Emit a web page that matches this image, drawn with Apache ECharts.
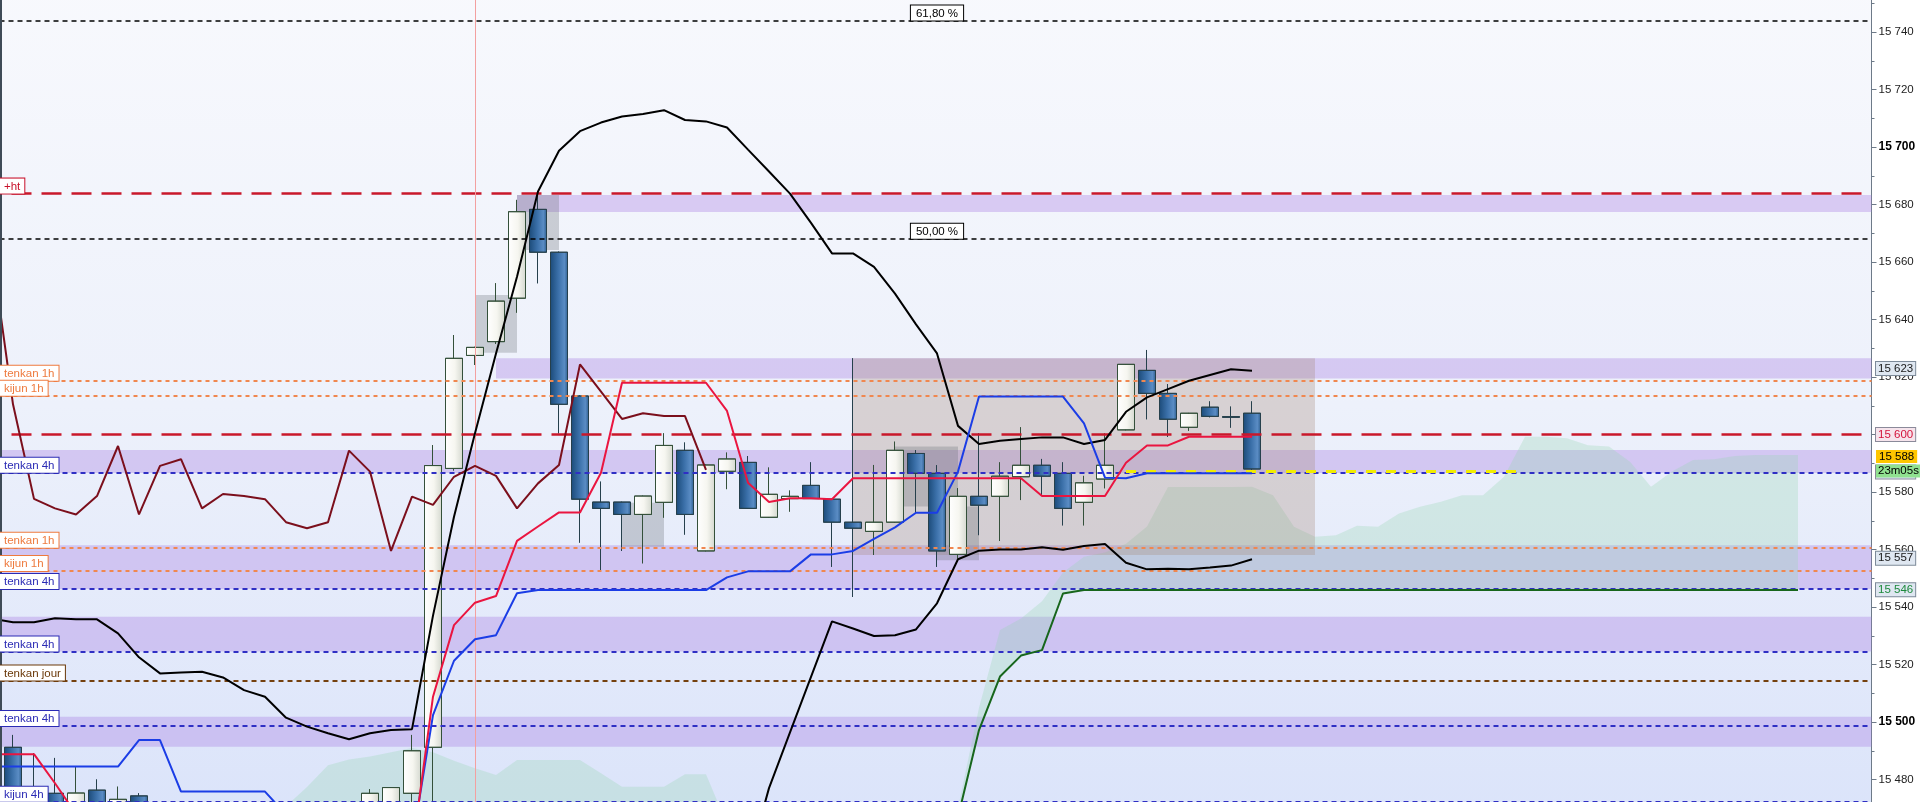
<!DOCTYPE html>
<html><head><meta charset="utf-8">
<script src="https://cdn.jsdelivr.net/npm/echarts@6/dist/echarts.min.js"></script>
<style>html,body{margin:0;padding:0;background:#fff;overflow:hidden}#c{width:1920px;height:802px}</style>
</head><body><div id="c"></div>
<script>
// ---------- DATA (bar index i = -1 .. ; array position = i + 1) ----------
const barIndex = [];
for (let i = -1; i <= 88; i++) barIndex.push(String(i));

const opens = [null,
  15491.2, 15468, 15475.2, 15466, 15476.3, 15467, 15474.3,
  null, null, null, null, null, null, null, null, null, null,
  15466, 15468, 15475.2, 15491.2, 15588.2, 15627.5, 15632.3, 15647.4, 15678.3, 15663.4,
  15613.4, 15576.5, 15576.5, 15572.2, 15576.4, 15594.5, 15559.5, 15587.2, 15590.3, 15571.2,
  15577.7, 15582.3, 15577.5, 15569.5, 15566.3, 15569.5, 15593.4, 15586.5, 15558.3, 15578.5,
  15578.5, 15585.3, 15589.3, 15586.5, 15576.4, 15584.5, 15601.6, 15622.3, 15614.3, 15602.5,
  15609.5, 15606.2, 15607.4];
const closes = [null,
  15462, 15463, 15464, 15475.3, 15466, 15473.1, 15465,
  null, null, null, null, null, null, null, null, null, null,
  15475.2, 15477.2, 15490.0, 15589.2, 15626.5, 15630.3, 15646.4, 15677.5, 15663.4, 15610.5,
  15577.5, 15574.3, 15572.2, 15578.6, 15596.2, 15572.2, 15589.4, 15591.5, 15574.3, 15579.2,
  15578.5, 15577.7, 15569.5, 15567.4, 15569.5, 15594.5, 15586.5, 15559.5, 15578.5, 15575.4,
  15585.5, 15589.3, 15585.5, 15574.3, 15583.2, 15589.3, 15624.4, 15614.3, 15605.3, 15607.4,
  15606.3, 15606.0, 15588.0];
const lows = [null,
  15455, 15452, 15458, 15460, 15462, 15461, 15460,
  null, null, null, null, null, null, null, null, null, null,
  15462, 15464, 15466, 15468, 15587.5, 15624.2, 15631.5, 15642.4, 15652.6, 15600.4,
  15562.4, 15552.9, 15559.5, 15555.2, 15571.1, 15565.2, 15559.4, 15581.0, 15574.2, 15571.1,
  15573.2, 15577.6, 15554.0, 15543.5, 15558.1, 15569.4, 15572.6, 15554.0, 15556.9, 15565.0,
  15563.0, 15577.2, 15578.9, 15568.4, 15568.4, 15581.3, 15601.5, 15605.3, 15599.2, 15601.3,
  15606.0, 15602.4, 15587.5];
const highs = [null,
  15495.5, 15489.1, 15487.5, 15484.4, 15480.0, 15477.5, 15475.2,
  null, null, null, null, null, null, null, null, null, null,
  15476.6, 15477.3, 15495.5, 15596.3, 15634.6, 15630.5, 15652.6, 15681.6, 15683.7, 15663.6,
  15613.6, 15583.6, 15576.6, 15578.7, 15600.4, 15597.2, 15589.5, 15593.7, 15592.5, 15588.5,
  15580.5, 15590.3, 15577.6, 15626.5, 15589.4, 15597.5, 15594.6, 15589.3, 15581.3, 15600.4,
  15590.3, 15602.5, 15591.5, 15590.3, 15585.6, 15600.4, 15624.5, 15629.4, 15617.5, 15607.5,
  15611.5, 15609.7, 15611.5];

// Ichimoku / Bollinger lines (null = outside the visible price range)
const chikou = [15663.4, 15610.5, 15577.6, 15574.3, 15572.2, 15578.6, 15596.0, 15572.2, 15589.1, 15591.4,
  15574.3, 15579.3, 15578.6, 15577.5, 15569.5, 15567.4, 15569.5, 15594.4, 15587.1, 15559.5,
  15578.4, 15575.5, 15585.3, 15589.1, 15585.6, 15574.3, 15583.0, 15589.4, 15624.4, 15614.9,
  15605.4, 15607.4, 15606.4, 15606.4, 15587.7];
const tenkan = [15488.8, 15488.8, 15488.8, 15478.7, 15468,
  null, null, null, null, null, null, null, null, null, null, null, null, null, null, null,
  15454.4, 15508.8, 15533.7, 15541.5, 15543.8, 15563, 15568, 15572.9, 15572.9, 15586.7,
  15618, 15618, 15618, 15618, 15618, 15608.2, 15583.2, 15576.5, 15577.8, 15577.8, 15577.5,
  15584.8, 15584.8, 15584.8, 15584.8, 15584.8, 15584.8, 15584.8, 15584.8, 15584.8,
  15578.6, 15578.6, 15578.6, 15578.6, 15590.2, 15596.2, 15596.2, 15599.2, 15599.2, 15599.2, 15599.2];
const kijun = [15484.5, 15484.5, 15484.5, 15484.5, 15484.5, 15484.5, 15484.5, 15493.7, 15493.7,
  15475.8, 15475.8, 15475.8, 15475.8, 15475.8, 15467.8,
  null, null, null, null, null,
  15457.4, 15502.4, 15521.3, 15528.8, 15530.2, 15544.8,
  15545.9, 15545.9, 15545.9, 15545.9, 15545.9, 15545.9, 15545.9, 15545.9, 15545.9,
  15550.3, 15552.4, 15552.4, 15552.4, 15558.3, 15558.3, 15559.5, 15563.7, 15567.7, 15572.8, 15572.8,
  15587.1, 15613.2, 15613.2, 15613.2, 15613.2, 15613.2, 15603.9, 15585.0, 15584.8,
  15586.5, 15586.5, 15586.5, 15586.5, 15586.5, 15586.5];
const bollUpper = [15536, 15534.7, 15534.7, 15536.1, 15535.7, 15535.7, 15530.8, 15522.5, 15516.9, 15517.2,
  15517.5, 15515.5, 15511.1, 15508.8, 15501.5, 15498.4, 15496.1, 15494.0, 15496.1, 15497.2,
  15497.5, 15537, 15571.4, 15600.4, 15628.2, 15654.9, 15684.5, 15698.7, 15705.5, 15708.5,
  15710.6, 15711.5, 15712.8, 15709.4, 15708.9, 15706.8, 15699.1, 15691.5, 15683.8, 15673.6,
  15663.0, 15663.0, 15658.3, 15649.0, 15638.3, 15628.2, 15603.0, 15596.7, 15597.8, 15598.4,
  15599.0, 15599.0, 15596.7, 15598.1, 15607.9, 15612.9, 15615.8, 15618.7, 15620.7, 15622.7, 15622.2];
const bollLower = [null, null, null, null, null, null, null, null, null, null,
  null, null, null, null, null, null, null, null, null, null,
  null, null, null, null, null, null, null, null, null, null,
  null, null, null, null, null, null,
  15450.6, 15477, 15496.4, 15515.7, 15535.0, 15532.5, 15529.9, 15530.2, 15532.2, 15541.3,
  15556.6, 15559.6, 15560, 15560, 15560.8, 15559.9, 15561.2, 15561.9, 15555.4, 15553.1,
  15553.3, 15553.1, 15553.7, 15554.4, 15556.6];
const spanTop = [null, null, null, null, null, null, null, null, null, null, null, null, null, null,
  15470.7, 15477.4, 15485, 15487, 15488, 15489.5, 15491, 15489.5, 15486.5, 15483.9, 15481.6,
  15486.8, 15486.8, 15486.8, 15486.8, 15482.2, 15477.5, 15477.5, 15477.5, 15481.8, 15481.8, 15464.5,
  null, null, null, null, null, null, null, null, null, null,
  15470, 15505, 15532, 15536, 15542, 15552, 15557.5, 15559, 15562, 15568,
  15581.7, 15581.7, 15581.7, 15581.7, 15581.8, 15578.9, 15567.9, 15564.4, 15565.0, 15568.3,
  15567.9, 15572.5, 15574.9, 15576.6, 15578.9, 15578.9, 15585.3, 15599.2, 15599.2, 15598.7,
  15596.3, 15595.8, 15590.5, 15581.8, 15587.1, 15591.1, 15591.4, 15592.5, 15592.9, 15592.9, 15592.9];
const spanBottom = [null, null, null, null, null, null, null, null, null, null,
  null, null, null, null, null, null, null, null, null, null,
  null, null, null, null, null, null, null, null, null, null,
  null, null, null, null, null, null, null, null, null, null,
  null, null, null, null, null, null,
  15466.9, 15497.2, 15515.8, 15523.1, 15525.0, 15544.7,
  15545.9, 15545.9, 15545.9, 15545.9, 15545.9, 15545.9, 15545.9, 15545.9, 15545.9, 15545.9,
  15545.9, 15545.9, 15545.9, 15545.9, 15545.9, 15545.9, 15545.9, 15545.9, 15545.9, 15545.9,
  15545.9, 15545.9, 15545.9, 15545.9, 15545.9, 15545.9, 15545.9, 15545.9, 15545.9, 15545.9,
  15545.9, 15545.9, 15545.9, 15545.9, 15545.9];

// Horizontal zones (price ranges) and the bar where they begin (null = from the left edge)
const zoneLow   = [15677.4, 15619.5, 15586.6, 15546.3, 15524.5, 15491.4];
const zoneHigh  = [15683.3, 15626.5, 15594.6, 15561.5, 15536.6, 15501.8];
const zoneStart = [24, 23, null, null, null, null];

// Highlight boxes: bars from..to, price low..high
const boxFrom = [22, 24, 29, 40, 42, 44];
const boxTo   = [24, 26, 31, 62, 45, 46];
const boxLow  = [15628.4, 15664.2, 15561.0, 15558.1, 15575.0, 15556.3];
const boxHigh = [15648.5, 15683.3, 15576.3, 15626.5, 15595.8, 15575.0];
const boxKind = ['cool', 'cool', 'cool', 'warm', 'cool', 'cool'];

// Level lines
const levelNames  = ['+ht', 'tenkan 1h', 'kijun 1h', '', 'tenkan 4h', 'tenkan 1h', 'kijun 1h', 'tenkan 4h', 'tenkan 4h', 'tenkan jour', 'tenkan 4h', 'kijun 4h'];
const levelValues = [15683.8, 15618.7, 15613.5, 15600.0, 15586.7, 15560.6, 15552.5, 15546.3, 15524.5, 15514.4, 15498.6, 15472.3];
const levelKinds  = ['res', 'h1', 'h1', 'res', 'h4', 'h1', 'h1', 'h4', 'h4', 'day', 'h4', 'h4'];

const fibNames  = ['61,80 %', '50,00 %'];
const fibValues = [15744.0, 15668.1];
const fibLabelBar = 44;

const targetValue = 15587.3, targetFrom = 53, targetTo = 72;
const markerBar = 22;

// Right-axis value tags
const tagValues = [15623, 15600, 15587, 15557, 15546];
const tagKinds  = ['plain', 'red', 'blue', 'plain', 'green'];
const lastPrice = 15588;
const countdown = '23m05s';

// ---------- STYLES ----------
const Y_MIN = 15460, Y_MAX = 15760;
const FONT = '"Liberation Sans", Arial, sans-serif';
const kindStyle = {
  res: { color: '#c9182b', width: 2.6, type: [20, 10], text: '#c8102a' },
  h1:  { color: '#f0874f', width: 2,   type: [4, 4],   text: '#ee7a3e' },
  h4:  { color: '#2f2fc4', width: 2,   type: [5, 4],   text: '#2a2ab4' },
  day: { color: '#74400e', width: 2,   type: [5, 4],   text: '#6a3808' }
};
const tagStyle = {
  plain: { bg: '#dfe7f1', fg: '#1a1a1a', border: '#7d8a99' },
  red:   { bg: '#f6e4ec', fg: '#d4143c', border: '#8a8a9a' },
  blue:  { bg: '#dce6f5', fg: '#2030d0', border: '#8a8a9a' },
  green: { bg: '#dfe7f1', fg: '#1d8a3c', border: '#7d8a99' }
};

const fmt = v => { const s = String(Math.round(v)); return s.slice(0, s.length - 3) + ' ' + s.slice(-3); };
const nz = a => a.map(v => (v == null ? '-' : v));

const candleData = opens.map((o, k) => (o == null ? '-' : [o, closes[k], lows[k], highs[k]]));
const cloudBase = spanTop.map((t, k) => (t == null ? null : (spanBottom[k] != null ? spanBottom[k] : Y_MIN)));
const cloudDiff = spanTop.map((t, k) => (t == null ? null : t - cloudBase[k]));

const upFill = new echarts.graphic.LinearGradient(0, 0, 1, 0, [
  { offset: 0, color: '#ffffff' }, { offset: 0.55, color: '#f6f6f0' }, { offset: 1, color: '#d4d8cf' }]);
const downFill = new echarts.graphic.LinearGradient(0, 0, 1, 0, [
  { offset: 0, color: '#1b4a78' }, { offset: 0.45, color: '#3a6fa8' }, { offset: 0.8, color: '#5a8cc4' }, { offset: 1, color: '#2c5d8e' }]);

const chart = echarts.init(document.getElementById('c'), null, { renderer: 'canvas' });

const lineSeries = (name, data, color, z) => ({
  type: 'line', name, data: nz(data), z, symbol: 'none', silent: true, connectNulls: false,
  lineStyle: { color, width: 2 }, animation: false
});

const option = {
  animation: false,
  backgroundColor: '#ffffff',
  grid: {
    left: -18.5, top: -25.5, width: 1890, height: 862.5, show: true, borderWidth: 0,
    containLabel: false, outerBoundsMode: 'none',
    backgroundColor: new echarts.graphic.LinearGradient(0, 0, 0, 1, [
      { offset: 0, color: '#f8f9fd' }, { offset: 0.5, color: '#edf1fb' }, { offset: 1, color: '#dae3fa' }])
  },
  xAxis: { type: 'category', data: barIndex, boundaryGap: true, show: false },
  yAxis: {
    type: 'value', position: 'right', min: Y_MIN, max: Y_MAX, interval: 20,
    splitLine: { show: false },
    axisLine: { show: true, lineStyle: { color: '#6d7a88', width: 1 } },
    axisTick: { show: true, length: 5, lineStyle: { color: '#6d7a88' } },
    minorTick: { show: true, splitNumber: 2, length: 3, lineStyle: { color: '#6d7a88' } },
    axisLabel: {
      margin: 7, fontSize: 11.5, color: '#222', fontFamily: FONT,
      formatter: v => (Math.round(v) % 100 === 0 ? '{b|' + fmt(v) + '}' : fmt(v)),
      rich: { b: { fontWeight: 'bold', fontSize: 12, color: '#000', fontFamily: FONT } }
    }
  },
  series: [
    { // horizontal zones
      type: 'custom', z: 1, silent: true, data: zoneLow,
      renderItem: (params, api) => {
        const j = params.dataIndex, cs = params.coordSys;
        const yTop = api.coord([0, zoneHigh[j]])[1], yBot = api.coord([0, zoneLow[j]])[1];
        const x0 = zoneStart[j] == null ? cs.x : api.coord([String(zoneStart[j]), zoneLow[j]])[0];
        return { type: 'rect', shape: { x: x0, y: yTop, width: cs.x + cs.width - x0, height: yBot - yTop },
          style: { fill: 'rgba(168,128,228,0.36)' } };
      }
    },
    { type: 'line', data: nz(cloudBase), stack: 'cloud', symbol: 'none', silent: true, z: 2, lineStyle: { opacity: 0 } },
    { type: 'line', data: nz(cloudDiff), stack: 'cloud', symbol: 'none', silent: true, z: 2, lineStyle: { opacity: 0 },
      areaStyle: { color: 'rgba(150,214,178,0.42)' } },
    { // highlight boxes
      type: 'custom', z: 3, silent: true, data: boxLow,
      renderItem: (params, api) => {
        const j = params.dataIndex;
        const p0 = api.coord([String(boxFrom[j]), boxHigh[j]]);
        const p1 = api.coord([String(boxTo[j]), boxLow[j]]);
        return { type: 'rect', shape: { x: p0[0], y: p0[1], width: p1[0] - p0[0], height: p1[1] - p0[1] },
          style: { fill: boxKind[j] === 'warm' ? 'rgba(165,135,120,0.30)' : 'rgba(105,112,120,0.30)' } };
      }
    },
    {
      type: 'candlestick', name: 'price', data: candleData, barWidth: 17, z: 4, silent: true,
      itemStyle: { color: upFill, color0: downFill, borderColor: '#34503a', borderColor0: '#26404c', borderWidth: 1 }
    },
    { // level lines
      type: 'line', data: [], z: 5, silent: true,
      markLine: {
        silent: true, symbol: 'none', animation: false, label: { show: false },
        data: levelValues.map((v, j) => ({ yAxis: v, lineStyle: {
          color: kindStyle[levelKinds[j]].color, width: kindStyle[levelKinds[j]].width, type: kindStyle[levelKinds[j]].type } }))
          .concat(fibValues.map(v => ({ yAxis: v, lineStyle: { color: '#000', width: 1.7, type: [5, 4] } })))
          .concat([{ xAxis: String(markerBar), lineStyle: { color: '#f3a0a0', width: 1, type: 'solid' } }])
          .concat([[{ coord: [String(targetFrom), targetValue] }, { coord: [String(targetTo), targetValue],
            lineStyle: { color: '#f2ec00', width: 3, type: [10, 10] } }]])
      }
    },
    lineSeries('chikou', chikou, '#7b0f1c', 6),
    lineSeries('bollUpper', bollUpper, '#000000', 6),
    lineSeries('bollLower', bollLower, '#000000', 6),
    lineSeries('spanB', spanBottom, '#17661c', 6),
    lineSeries('kijun', kijun, '#1b3de6', 7),
    lineSeries('tenkan', tenkan, '#ea1540', 7)
  ]
};
chart.setOption(option);

// ---------- labels positioned through the chart scales ----------
const yPix = v => chart.convertToPixel({ yAxisIndex: 0 }, v);
const xPix = i => chart.convertToPixel({ xAxisIndex: 0 }, String(i));
const g = [];
g.push({ type: 'rect', shape: { x: 0, y: 0, width: 2, height: 802 }, style: { fill: '#3f4b57' }, z: 100, silent: true });

levelNames.forEach((name, j) => {
  if (!name) return;
  const st = kindStyle[levelKinds[j]];
  g.push({ type: 'text', x: 0, y: yPix(levelValues[j]), z: 100, silent: true,
    style: { text: name, font: '11.5px ' + FONT, fill: st.text, backgroundColor: '#ffffff',
      borderColor: st.text, borderWidth: 1, padding: [2, 4, 1, 4], align: 'left', verticalAlign: 'bottom' } });
});
fibNames.forEach((name, j) => {
  g.push({ type: 'text', x: xPix(fibLabelBar), y: yPix(fibValues[j]), z: 100, silent: true,
    style: { text: name, font: '11.5px ' + FONT, fill: '#000', backgroundColor: '#ffffff',
      borderColor: '#000', borderWidth: 1, padding: [2, 5, 1, 5], align: 'center', verticalAlign: 'bottom' } });
});
const TAG_X = 1876;
tagValues.forEach((v, j) => {
  const st = tagStyle[tagKinds[j]];
  g.push({ type: 'text', x: TAG_X, y: yPix(v), z: 110 + j, silent: true,
    style: { text: fmt(v), font: '11.5px ' + FONT, fill: st.fg, backgroundColor: st.bg,
      borderColor: st.border, borderWidth: 1, padding: [1, 2, 0, 2], align: 'left', verticalAlign: 'middle' } });
});
g.push({ type: 'text', x: TAG_X, y: yPix(lastPrice) - 12.5, z: 130, silent: true,
  style: { text: fmt(lastPrice), font: '11.5px ' + FONT, fill: '#000', backgroundColor: '#ffc600',
    padding: [1, 3, 0, 3], align: 'left', verticalAlign: 'middle' } });
g.push({ type: 'text', x: TAG_X, y: yPix(lastPrice) + 2, z: 131, silent: true,
  style: { text: countdown, font: '11.5px ' + FONT, fill: '#000', backgroundColor: '#90e190',
    padding: [1, 2, 0, 2], align: 'left', verticalAlign: 'middle' } });
chart.setOption({ graphic: { elements: g } });
</script></body></html>
